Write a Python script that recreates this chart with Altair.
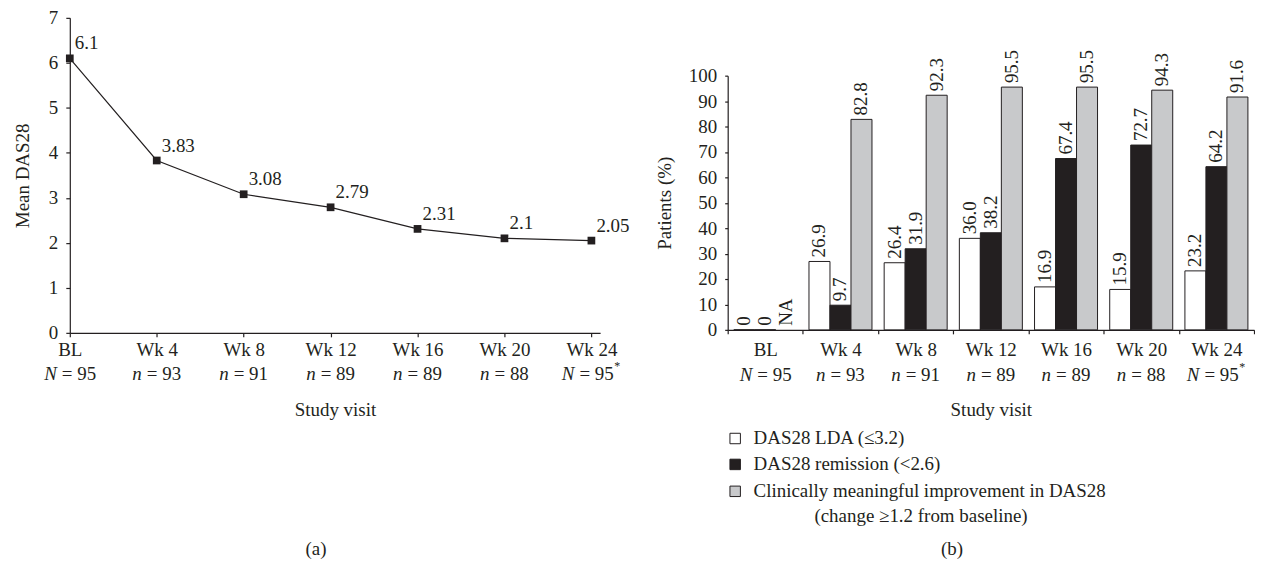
import altair as alt
import pandas as pd

FONT = "Liberation Serif"
INK = "#231f20"
FS = 19

# ---------------- data ----------------
visits = ["BL", "Wk 4", "Wk 8", "Wk 12", "Wk 16", "Wk 20", "Wk 24"]
n_letters = ["N", "n", "n", "n", "n", "n", "N"]
n_counts = [95, 93, 91, 89, 89, 88, 95]
n_star = [False, False, False, False, False, False, True]

mean_das28 = [6.1, 3.83, 3.08, 2.79, 2.31, 2.1, 2.05]
mean_labels = ["6.1", "3.83", "3.08", "2.79", "2.31", "2.1", "2.05"]

series = ["DAS28 LDA (\u22643.2)", "DAS28 remission (<2.6)",
          "Clinically meaningful improvement in DAS28"]
series_notes = ["", "", "(change \u22651.2 from baseline)"]
series_colors = ["#ffffff", INK, "#c8c9cb"]
lda = [0, 26.9, 26.4, 36.0, 16.9, 15.9, 23.2]
remission = [0, 9.7, 31.9, 38.2, 67.4, 72.7, 64.2]
improvement = [None, 82.8, 92.3, 95.5, 95.5, 94.3, 91.6]

panel_labels = ["(a)", "(b)"]

# ---------------- tables ----------------
df_line = pd.DataFrame({
    "visit": visits, "das": mean_das28, "lab": mean_labels,
    "letter": n_letters, "count": n_counts, "star": n_star,
})
df_line["rest"] = ["= " + str(c) for c in n_counts]

rows = []
for s, vals in zip(series, [lda, remission, improvement]):
    for v, val in zip(visits, vals):
        if val is None:
            lab, ly = "NA", 0
        elif val == 0:
            lab, ly = "0", 0
        else:
            lab, ly = f"{val:.1f}", val
        rows.append({"visit": v, "series": s, "value": val, "label": lab, "ly": ly})
df_bar = pd.DataFrame(rows)

df_leg = pd.DataFrame({"series": series, "note": series_notes, "row": [0, 1, 2]})

fill_scale = alt.Scale(domain=series, range=series_colors)


def count_layers(df, ypx):
    """Second line of the category labels, with an italic N / n."""
    out = []
    groups = [("datum.letter == 'N' && !datum.star", -13),
              ("datum.letter == 'n'", -15),
              ("datum.letter == 'N' && datum.star", -17)]
    for cond, dx in groups:
        sub = alt.Chart(df).transform_filter(cond).encode(
            x=alt.X("visit:N", sort=visits), y=alt.value(ypx))
        out.append(sub.mark_text(align="right", baseline="middle", dx=dx, font=FONT,
                                 fontSize=FS, fontStyle="italic", color=INK)
                   .encode(text="letter:N"))
        out.append(sub.mark_text(align="left", baseline="middle", dx=dx + 5, font=FONT,
                                 fontSize=FS, color=INK)
                   .encode(text="rest:N"))
    star = alt.Chart(df).transform_filter("datum.star").mark_text(
        align="left", baseline="middle", dx=23, dy=-8, font=FONT, fontSize=12, color=INK
    ).encode(x=alt.X("visit:N", sort=visits), y=alt.value(ypx), text=alt.value("*"))
    out.append(star)
    return out


# ---------------- panel (a) ----------------
HL, WL = 316, 532
xl = alt.X("visit:N", sort=visits,
           scale=alt.Scale(type="point", padding=0.05, align=0),
           axis=alt.Axis(title="Study visit", labelAngle=0, tickSize=4, labelPadding=4,
                         titleY=77, titleBaseline="middle"))
axis_l = alt.Axis(title="Mean DAS28", values=list(range(8)), tickSize=4,
                  labelPadding=8, titlePadding=16, labelOverlap=False)
yl = alt.Y("das:Q", scale=alt.Scale(domain=[0, 7], nice=False), axis=axis_l)
base_l = alt.Chart(df_line)
line = base_l.mark_line(color=INK, strokeWidth=1.2).encode(x=xl, y=yl)
pts = base_l.mark_square(color=INK, size=60, opacity=1).encode(
    x=alt.X("visit:N", sort=visits), y=alt.Y("das:Q", axis=axis_l))
vals = base_l.mark_text(align="left", baseline="alphabetic", dx=5, dy=-9, font=FONT,
                        fontSize=FS, color=INK).encode(
    x=alt.X("visit:N", sort=visits), y=alt.Y("das:Q", axis=axis_l), text="lab:N")
cap_a = alt.Chart(pd.DataFrame({"p": [panel_labels[0]]})).mark_text(
    font=FONT, fontSize=FS, color=INK, baseline="middle").encode(
    x=alt.value(247), y=alt.value(533), text="p:N")

left = alt.layer(line, pts, vals, *count_layers(df_line, HL + 41), cap_a).properties(
    width=WL, height=HL)

# ---------------- panel (b) ----------------
HR, WR = 313, 528
xb = alt.X("visit:N", sort=visits, scale=alt.Scale(paddingInner=0, paddingOuter=0),
           axis=alt.Axis(title="Study visit", labelAngle=0, tickBand="extent", tickSize=4,
                         labelPadding=7, titleY=80, titleBaseline="middle"))
xo = alt.XOffset("series:N", sort=series, scale=alt.Scale(paddingOuter=0.29, paddingInner=0))
axis_r = alt.Axis(title="Patients (%)", values=list(range(0, 101, 10)), tickSize=3,
                  labelPadding=8, titlePadding=14, labelOverlap=False)
yscale_r = alt.Scale(domain=[0, 100], range=[HR, 58], nice=False)
yb = alt.Y("value:Q", scale=yscale_r, axis=axis_r)
bars = alt.Chart(df_bar).mark_bar(stroke=INK, strokeWidth=1).encode(
    x=xb, xOffset=xo, y=yb,
    fill=alt.Fill("series:N", sort=series, scale=fill_scale, legend=None))
blabels = alt.Chart(df_bar).mark_text(angle=270, align="left", baseline="middle", dx=4,
                                      font=FONT, fontSize=FS, color=INK).encode(
    x=alt.X("visit:N", sort=visits), xOffset=alt.XOffset("series:N", sort=series),
    y=alt.Y("ly:Q", scale=yscale_r, axis=axis_r), text="label:N")

df_bar_counts = df_line[["visit", "letter", "rest", "star"]]

leg_layers = []
leg_y = [422, 448, 475]
for i in range(len(series)):
    src = alt.Chart(df_leg).transform_filter(f"datum.row == {i}")
    leg_layers.append(src.mark_square(size=110, stroke=INK, strokeWidth=1, opacity=1).encode(
        x=alt.value(7.5), y=alt.value(leg_y[i]),
        fill=alt.Fill("series:N", sort=series, scale=fill_scale, legend=None)))
    leg_layers.append(src.mark_text(align="left", baseline="middle", font=FONT, fontSize=FS,
                                    color=INK).encode(
        x=alt.value(26), y=alt.value(leg_y[i]), text="series:N"))
leg_layers.append(alt.Chart(df_leg).transform_filter("datum.note != ''").mark_text(
    align="left", baseline="middle", font=FONT, fontSize=FS, color=INK).encode(
    x=alt.value(87), y=alt.value(500), text="note:N"))

cap_b = alt.Chart(pd.DataFrame({"p": [panel_labels[1]]})).mark_text(
    font=FONT, fontSize=FS, color=INK, baseline="middle").encode(
    x=alt.value(225), y=alt.value(533), text="p:N")

right = alt.layer(bars, blabels, *count_layers(df_bar_counts, HR + 45), *leg_layers,
                  cap_b).properties(width=WR, height=HR)

chart = alt.hconcat(left, right, spacing=128, bounds="flush").properties(
    padding={"left": 5, "top": 0, "right": 0, "bottom": 0}
).configure_view(stroke=None).configure_axis(
    labelFont=FONT, titleFont=FONT, labelFontSize=FS, titleFontSize=FS,
    titleFontWeight="normal", labelColor=INK, titleColor=INK, domainColor=INK,
    tickColor=INK, domainWidth=1.2, tickWidth=1.2, grid=False
)

chart.save("out.html", embed_options={"renderer": "svg", "actions": False})
